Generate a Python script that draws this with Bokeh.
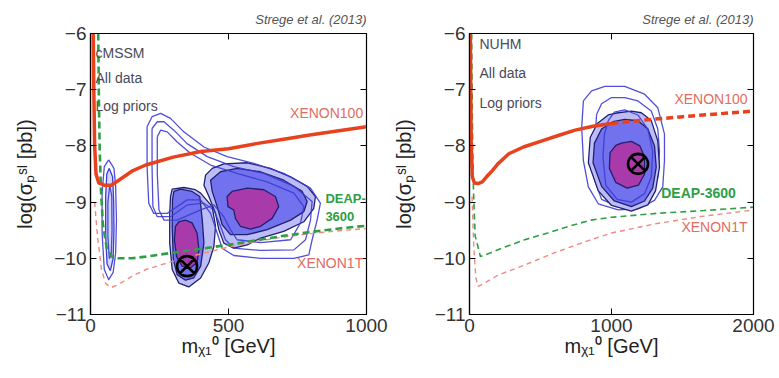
from bokeh.plotting import figure
from bokeh.layouts import row
from bokeh.models import FixedTicker, LinearAxis, Label, Range1d
from bokeh.embed import file_html
from bokeh.resources import INLINE

FONT = "Liberation Sans"

# ---------------- data ----------------
y_ticks = [-11, -10, -9, -8, -7, -6]
y_tick_labels = ["\u221211", "\u221210", "\u22129", "\u22128", "\u22127", "\u22126"]
x_ticks_cmssm = [0, 500, 1000]
x_ticks_nuhm = [0, 1000, 2000]
x_tick_labels_cmssm = ["0", "500", "1000"]
x_tick_labels_nuhm = ["0", "1000", "2000"]

# cMSSM panel limits
cm_xenon100_m = [10, 12, 15, 20, 30, 50, 75, 100, 150, 200, 300, 400, 500, 600, 700, 800, 900, 1000]
cm_xenon100_s = [-6.0, -7.0, -8.0, -8.5, -8.66, -8.7, -8.7, -8.62, -8.45, -8.34, -8.2, -8.1, -8.05, -7.96, -7.88, -7.8, -7.73, -7.66]
cm_deap_m = [28, 30, 33, 38, 45, 60, 80, 100, 150, 200, 300, 400, 500, 600, 700, 800, 900, 1000]
cm_deap_s = [-6.0, -7.0, -8.0, -8.8, -9.4, -9.85, -9.98, -10.0, -10.0, -9.97, -9.9, -9.83, -9.76, -9.68, -9.6, -9.53, -9.47, -9.42]
cm_x1t_m = [15, 25, 40, 55, 75, 100, 150, 200, 300, 400, 500, 600, 700, 800, 900, 1000]
cm_x1t_s = [-9.0, -9.6, -10.2, -10.45, -10.52, -10.47, -10.32, -10.2, -10.05, -9.92, -9.8, -9.7, -9.62, -9.56, -9.51, -9.47]

# cMSSM posterior contours (filled: 95%, 68%, core)
cm_a95_m = [290, 296, 338, 380, 399, 441, 453, 447, 429, 399, 356, 320, 296, 287, 287]
cm_a95_s = [-8.90, -8.77, -8.74, -8.78, -8.84, -9.08, -9.43, -9.79, -10.08, -10.35, -10.51, -10.44, -10.20, -9.73, -9.20]
cm_a68_m = [302, 326, 368, 396, 405, 411, 399, 374, 344, 314, 300, 296, 297]
cm_a68_s = [-8.81, -8.77, -8.81, -8.90, -9.32, -9.73, -10.14, -10.35, -10.39, -10.29, -10.02, -9.43, -8.96]
cm_acore_m = [308, 320, 344, 368, 386, 393, 386, 362, 332, 312, 304]
cm_acore_s = [-9.43, -9.35, -9.32, -9.37, -9.55, -9.85, -10.08, -10.17, -10.14, -9.97, -9.67]
cm_b95_m = [417, 441, 483, 568, 652, 725, 785, 815, 809, 773, 700, 616, 568, 519, 483, 465, 453, 429, 411]
cm_b95_s = [-8.52, -8.40, -8.32, -8.30, -8.40, -8.55, -8.72, -8.90, -9.11, -9.35, -9.52, -9.64, -9.76, -9.82, -9.73, -9.49, -9.20, -8.90, -8.70]
cm_b68_m = [435, 471, 531, 616, 700, 767, 785, 773, 725, 640, 568, 507, 477, 459, 441]
cm_b68_s = [-8.61, -8.46, -8.40, -8.46, -8.61, -8.81, -8.99, -9.17, -9.32, -9.49, -9.58, -9.58, -9.40, -9.08, -8.81]
cm_bcore_m = [495, 513, 568, 628, 670, 682, 658, 616, 580, 543, 525, 519, 498]
cm_bcore_s = [-8.90, -8.81, -8.75, -8.78, -8.90, -9.08, -9.29, -9.43, -9.48, -9.43, -9.29, -9.14, -9.08]
# cMSSM unfilled contours (other prior)
cm_o1_m = [205, 223, 254, 290, 338, 411, 495, 592, 700, 797, 833, 821, 803, 791, 737, 616, 519, 477, 459, 435, 399, 350, 278, 229, 211, 205]
cm_o1_s = [-7.66, -7.48, -7.42, -7.51, -7.75, -8.02, -8.19, -8.31, -8.49, -8.75, -9.02, -9.32, -9.67, -9.94, -10.0, -10.0, -9.95, -9.82, -9.55, -9.20, -8.96, -8.96, -9.20, -9.20, -9.02, -8.37]
cm_o2_m = [223, 242, 266, 302, 350, 423, 519, 628, 737, 803, 797, 779, 737, 616, 519, 489, 471, 447, 411, 350, 290, 242, 226, 223]
cm_o2_s = [-7.69, -7.57, -7.57, -7.72, -7.96, -8.19, -8.37, -8.49, -8.72, -8.99, -9.32, -9.67, -9.85, -9.86, -9.82, -9.67, -9.43, -9.14, -9.02, -9.05, -9.26, -9.26, -9.08, -8.37]
cm_o3_m = [242, 254, 278, 314, 362, 435, 531, 640, 737, 773, 761, 725, 616, 531, 507, 483, 447, 399, 314, 266, 248, 242]
cm_o3_s = [-7.84, -7.72, -7.75, -7.93, -8.13, -8.34, -8.49, -8.64, -8.84, -9.08, -9.37, -9.67, -9.72, -9.67, -9.49, -9.26, -9.05, -9.14, -9.32, -9.32, -9.14, -8.49]
cm_e1_m = [66, 85, 91, 94, 91, 82, 66, 50, 42, 42, 50]
cm_e1_s = [-8.25, -8.40, -8.72, -9.32, -9.91, -10.25, -10.38, -10.20, -9.55, -8.84, -8.37]
cm_e2_m = [68, 80, 84, 85, 82, 72, 60, 55, 55, 59]
cm_e2_s = [-8.40, -8.55, -9.0, -9.5, -10.0, -10.22, -10.10, -9.60, -8.90, -8.50]
cm_e3_m = [70, 77, 78, 75, 68, 63, 63]
cm_e3_s = [-8.70, -8.90, -9.50, -9.95, -10.0, -9.60, -9.00]
cm_best_m = [350]
cm_best_s = [-10.14]

# NUHM panel limits
nu_xenon100_m = [6, 9, 12, 20, 35, 60, 90, 120, 161, 200, 277, 380, 510, 620, 744, 870, 1000]
nu_xenon100_s = [-6.0, -7.0, -8.0, -8.55, -8.66, -8.67, -8.64, -8.55, -8.44, -8.32, -8.14, -8.02, -7.91, -7.82, -7.72, -7.65, -7.6]
nu_xenon100_proj_m = [1000, 1235, 1500, 1750, 2000]
nu_xenon100_proj_s = [-7.6, -7.54, -7.48, -7.43, -7.38]
nu_deap_m = [15, 20, 28, 40, 77, 150, 250, 388, 550, 700, 855, 1000, 1321, 1650, 2000]
nu_deap_s = [-6.0, -7.5, -8.8, -9.6, -9.97, -9.9, -9.8, -9.67, -9.55, -9.43, -9.32, -9.27, -9.2, -9.15, -9.09]
nu_x1t_m = [18, 30, 45, 60, 100, 200, 388, 600, 855, 1000, 1321, 1650, 2000]
nu_x1t_s = [-8.9, -9.8, -10.35, -10.5, -10.45, -10.3, -10.12, -9.9, -9.67, -9.55, -9.38, -9.25, -9.14]

nu_95_m = [1047, 1140, 1210, 1280, 1326, 1338, 1310, 1256, 1140, 1000, 907, 837, 850, 900, 977]
nu_95_s = [-7.41, -7.38, -7.41, -7.55, -7.91, -8.38, -8.80, -9.05, -9.16, -9.06, -8.80, -8.30, -7.85, -7.60, -7.45]
nu_68_m = [1093, 1186, 1256, 1303, 1315, 1290, 1233, 1140, 1020, 930, 870, 880, 930, 1010]
nu_68_s = [-7.53, -7.55, -7.70, -8.00, -8.38, -8.75, -8.98, -9.08, -8.98, -8.72, -8.30, -7.95, -7.70, -7.57]
nu_core_m = [1070, 1140, 1200, 1233, 1233, 1190, 1110, 1030, 985, 990, 1030]
nu_core_s = [-7.95, -7.92, -8.00, -8.20, -8.50, -8.70, -8.75, -8.65, -8.40, -8.12, -7.99]
nu_o1_m = [802, 860, 953, 1093, 1233, 1326, 1373, 1373, 1361, 1303, 1186, 1047, 907, 837, 802, 790]
nu_o1_s = [-7.20, -7.02, -6.94, -6.94, -7.08, -7.32, -7.79, -8.26, -8.73, -8.97, -9.12, -9.14, -9.03, -8.73, -8.26, -7.67]
nu_o2_m = [895, 930, 1000, 1093, 1186, 1280, 1326, 1338, 1326, 1280, 1186, 1047, 930, 880, 880]
nu_o2_s = [-7.44, -7.25, -7.14, -7.14, -7.20, -7.38, -7.70, -8.10, -8.55, -8.88, -9.06, -9.08, -8.95, -8.60, -8.00]
nu_o3_m = [977, 1020, 1093, 1186, 1256, 1290, 1280, 1233, 1140, 1040, 960, 940, 950]
nu_o3_s = [-7.55, -7.40, -7.36, -7.45, -7.70, -8.10, -8.55, -8.85, -9.00, -8.95, -8.70, -8.20, -7.80]
nu_best_m = [1187]
nu_best_s = [-8.32]

# ---------------- styles ----------------
C_RED = "#e8411e"
C_GREEN = "#2f9e44"
C_PINK = "#f08a80"
C_LIGHT = "#bcbcf6"
C_MED = "#7272ee"
C_CORE = "#a93aaa"
C_EDGE = "#202070"
C_OUT = "#3c3cd6"
C_LABEL_RED = "#e36b62"
C_TEXT = "#4a4a58"


def closed(a):
    return list(a) + [a[0]]


def make_panel(xmax, xticks, xtick_labels, width, borders):
    bl, br, bt, bb = borders
    p = figure(width=width, height=378, x_range=Range1d(0, xmax), y_range=Range1d(-11, -6),
               output_backend="svg", toolbar_location=None,
               min_border_left=bl, min_border_right=br, min_border_top=bt, min_border_bottom=bb)
    p.grid.visible = False
    p.outline_line_color = "black"
    p.outline_line_width = 1.2
    p.background_fill_color = "white"
    p.border_fill_color = "white"

    p.xaxis.ticker = FixedTicker(ticks=xticks)
    p.xaxis.major_label_overrides = dict(zip(xticks, xtick_labels))
    p.yaxis.ticker = FixedTicker(ticks=y_ticks)
    p.yaxis.major_label_overrides = dict(zip(y_ticks, y_tick_labels))
    for ax in (p.xaxis[0], p.yaxis[0]):
        ax.major_tick_in = 6
        ax.major_tick_out = 0
        ax.minor_tick_line_color = None
        ax.axis_line_color = "black"
        ax.axis_line_width = 1.2
        ax.major_tick_line_color = "black"
        ax.major_label_text_font = FONT
        ax.major_label_text_font_size = "19px"
        ax.major_label_text_color = "#333333"
        ax.axis_label_text_font = FONT
        ax.axis_label_text_font_size = "20px"
        ax.axis_label_text_font_style = "normal"
        ax.axis_label_text_color = "#222222"
    p.yaxis.major_label_orientation = "horizontal"
    p.yaxis.axis_label = "log(\u03c3\u209a\u02e2\u1d35 [pb])"
    p.yaxis.axis_label_standoff = 15
    p.yaxis.major_label_standoff = 4
    p.xaxis.axis_label = "m\u1d6a\u2081\u2070 [GeV]"
    p.xaxis.axis_label_standoff = 0
    p.xaxis.major_label_standoff = 4

    # mirrored tick marks on the top and right edges (no labels)
    top = LinearAxis(ticker=FixedTicker(ticks=xticks),
                     major_label_overrides={t: "" for t in xticks},
                     major_tick_in=6, major_tick_out=0, minor_tick_line_color=None,
                     major_label_standoff=0, axis_line_color="black")
    right = LinearAxis(ticker=FixedTicker(ticks=y_ticks),
                       major_label_overrides={t: "" for t in y_ticks},
                       major_tick_in=6, major_tick_out=0, minor_tick_line_color=None,
                       major_label_standoff=0, axis_line_color="black")
    p.add_layout(top, "above")
    p.add_layout(right, "right")

    p.title.text = "Strege et al. (2013)"
    p.title.align = "right"
    p.title.text_font = FONT
    p.title.text_font_style = "italic"
    p.title.text_font_size = "13px"
    p.title.text_color = "#555555"
    p.title.standoff = 14
    return p


def fill(p, m, s, color):
    p.patch(closed(m), closed(s), fill_color=color, line_color=C_EDGE, line_width=1.3, line_join="round")


def outline(p, m, s):
    p.line(closed(m), closed(s), line_color=C_OUT, line_width=1.3, line_join="round", line_alpha=0.9)


def label(p, x, y, text, color, size="14px", align="left", style="normal"):
    p.add_layout(Label(x=x, y=y, text=text, text_color=color, text_font=FONT, text_font_size=size,
                       text_align=align, text_baseline="middle", text_font_style=style))


# ---------------- left: cMSSM ----------------
p1 = make_panel(1000, x_ticks_cmssm, x_tick_labels_cmssm, 390, (90, 24, 33, 64))
fill(p1, cm_b95_m, cm_b95_s, C_LIGHT)
fill(p1, cm_a95_m, cm_a95_s, C_LIGHT)
fill(p1, cm_b68_m, cm_b68_s, C_MED)
fill(p1, cm_a68_m, cm_a68_s, C_MED)
outline(p1, cm_o1_m, cm_o1_s)
outline(p1, cm_o2_m, cm_o2_s)
outline(p1, cm_o3_m, cm_o3_s)
p1.patch(closed(cm_e2_m), closed(cm_e2_s), fill_color=C_LIGHT, fill_alpha=0.6, line_color=C_OUT, line_width=1.3)
outline(p1, cm_e1_m, cm_e1_s)
outline(p1, cm_e3_m, cm_e3_s)
fill(p1, cm_bcore_m, cm_bcore_s, C_CORE)
fill(p1, cm_acore_m, cm_acore_s, C_CORE)
p1.line(cm_x1t_m, cm_x1t_s, line_color=C_PINK, line_width=1.4, line_dash="5 4")
p1.line(cm_deap_m, cm_deap_s, line_color=C_GREEN, line_width=2.6, line_dash="7 4")
p1.line(cm_xenon100_m, cm_xenon100_s, line_color=C_RED, line_width=3.5, line_join="round")
p1.scatter(cm_best_m, cm_best_s, marker="circle_x", size=20, fill_color=None, line_color="black", line_width=2.6)
label(p1, 18, -6.34, "cMSSM", C_TEXT)
label(p1, 18, -6.80, "All data", C_TEXT)
label(p1, 18, -7.29, "Log priors", C_TEXT)
label(p1, 988, -7.42, "XENON100", C_LABEL_RED, align="right")
label(p1, 851, -8.93, "DEAP-", C_GREEN, size="13px", style="bold")
label(p1, 851, -9.26, "3600", C_GREEN, size="13px", style="bold")
label(p1, 988, -10.08, "XENON1T", C_LABEL_RED, align="right")

# ---------------- right: NUHM ----------------
p2 = make_panel(2000, x_ticks_nuhm, x_tick_labels_nuhm, 389, (77, 26, 30, 63))
outline(p2, nu_o1_m, nu_o1_s)
outline(p2, nu_o2_m, nu_o2_s)
fill(p2, nu_95_m, nu_95_s, C_LIGHT)
fill(p2, nu_68_m, nu_68_s, C_MED)
outline(p2, nu_o3_m, nu_o3_s)
fill(p2, nu_core_m, nu_core_s, C_CORE)
p2.line(nu_x1t_m, nu_x1t_s, line_color=C_PINK, line_width=1.4, line_dash="5 4")
p2.line(nu_deap_m, nu_deap_s, line_color=C_GREEN, line_width=1.6, line_dash="6 4")
p2.line(nu_xenon100_m, nu_xenon100_s, line_color=C_RED, line_width=3.5, line_join="round")
p2.line(nu_xenon100_proj_m, nu_xenon100_proj_s, line_color=C_RED, line_width=3.5, line_dash="7 4")
p2.scatter(nu_best_m, nu_best_s, marker="circle_x", size=20, fill_color=None, line_color="black", line_width=2.6)
label(p2, 70, -6.19, "NUHM", C_TEXT)
label(p2, 70, -6.71, "All data", C_TEXT)
label(p2, 70, -7.24, "Log priors", C_TEXT)
label(p2, 1958, -7.17, "XENON100", C_LABEL_RED, align="right")
label(p2, 1350, -8.84, "DEAP-3600", C_GREEN, style="bold")
label(p2, 1958, -9.45, "XENON1T", C_LABEL_RED, align="right")

layout = row(p1, p2)
open("out.html", "w").write(file_html(layout, INLINE))
